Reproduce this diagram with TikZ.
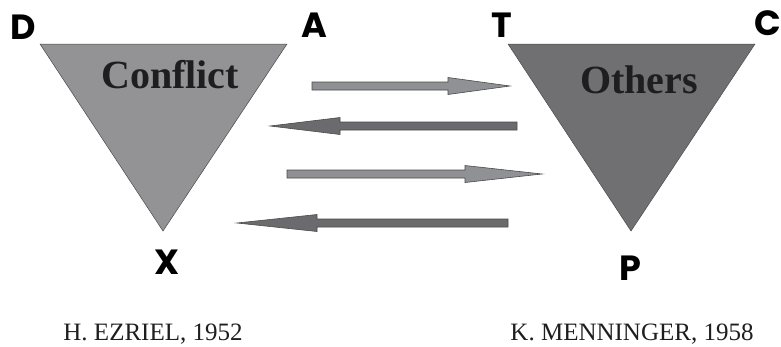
\documentclass[tikz,border=0pt]{standalone}
\usepackage{fontspec}
\setmainfont{Liberation Serif}
\newfontfamily\lblfont{Poppins}
\definecolor{triL}{HTML}{939396}
\definecolor{triR}{HTML}{707073}
\definecolor{arrL}{HTML}{909194}
\definecolor{arrD}{HTML}{6B6B6E}
\definecolor{edge}{HTML}{4A4A4C}
\definecolor{ink}{HTML}{1E1E1E}
\newcommand\myharrow[5]{% x0, head base, tip, centre y, colour
  \filldraw[fill=#5,draw=edge,line width=0.6pt,line join=miter]
    (#1,#4-4) -- (#2,#4-4) -- (#2,#4-8.5) -- (#3,#4) -- (#2,#4+8.5) -- (#2,#4+4) -- (#1,#4+4) -- cycle;}
\begin{document}
\begin{tikzpicture}[x=1pt,y=-1pt,
  corner/.style={font=\lblfont\bfseries\fontsize{35}{35}\selectfont, text=black, inner sep=0pt},
  title/.style={font=\bfseries\fontsize{40}{40}\selectfont, text=ink, inner sep=0pt, anchor=base},
  author/.style={font=\fontsize{25}{25}\selectfont, text=ink, inner sep=0pt, anchor=base}]
\useasboundingbox (0,0) rectangle (781,346);
% triangles
\filldraw[fill=triL, draw=edge, line width=0.5pt] (40,44) -- (287,44) -- (163,231) -- cycle;
\filldraw[fill=triR, draw=edge, line width=0.5pt] (508,44) -- (755,44) -- (631,231) -- cycle;
% titles
\node[title] (conflict) at (170,88) {Conflict};
\node[title] (others) at (639,93) {Others};
% corner letters
\node[corner] (D) at (23,27) {D};
\node[corner] (A) at (314,25) {A};
\node[corner] (T) at (502,25) {T};
\node[corner] (C) at (768,23) {C};
\node[corner] (X) at (167,262) {X};
\node[corner] (P) at (630,268) {P};
% arrows
\myharrow{312}{448}{510}{86}{arrL}
\myharrow{517}{340}{270}{126}{arrD}
\myharrow{287}{465}{542}{174}{arrL}
\myharrow{508}{317}{237}{223}{arrD}
% authors
\node[author] (ezriel) at (153,340) {H. EZRIEL, 1952};
\node[author] (menninger) at (632,340) {K. MENNINGER, 1958};
\end{tikzpicture}
\end{document}
